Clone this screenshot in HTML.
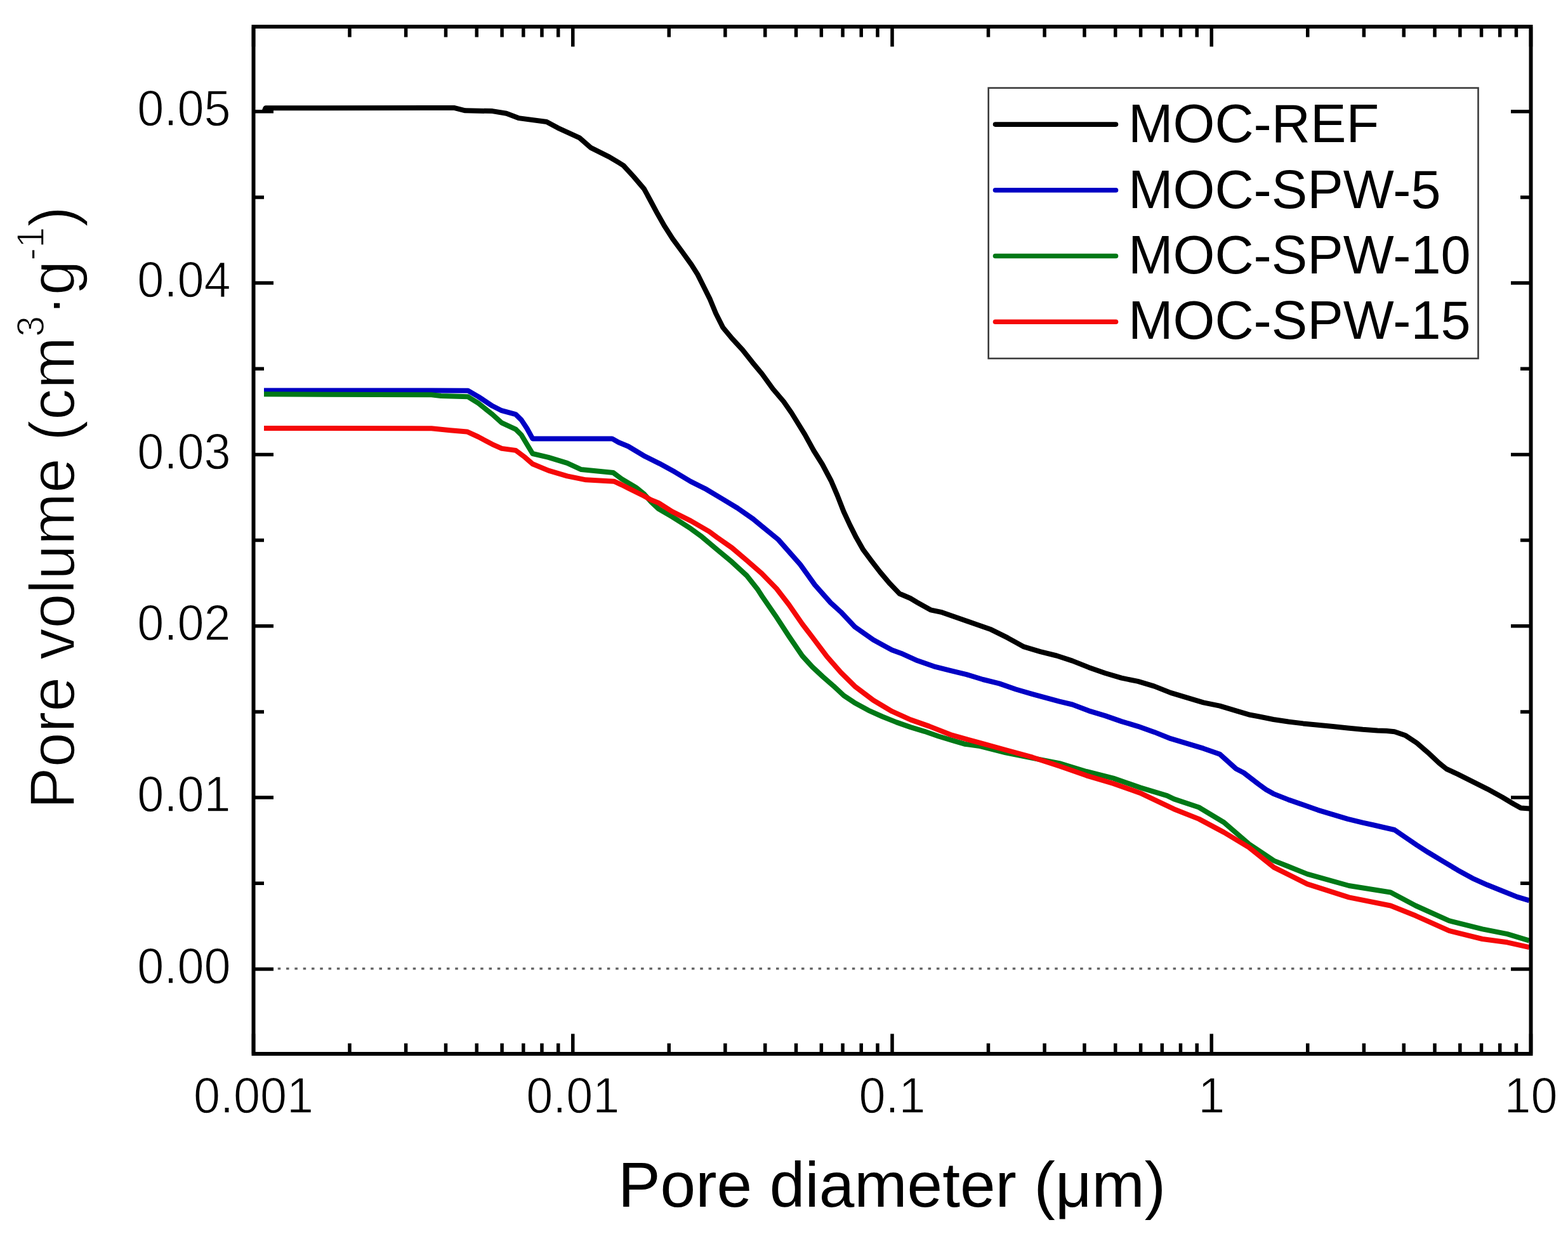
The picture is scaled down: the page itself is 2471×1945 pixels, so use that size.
<!DOCTYPE html>
<html><head><meta charset="utf-8"><title>Pore volume vs pore diameter</title>
<style>html,body{margin:0;padding:0;background:#fff}svg{display:block}</style></head>
<body><svg width="2471" height="1945" viewBox="0 0 2471 1945">
<rect x="0" y="0" width="2471" height="1945" fill="#fff"/>
<line x1="437.75" y1="1526.8" x2="2378.5" y2="1526.8" stroke="#666" stroke-width="3.4" stroke-dasharray="4.5 8.81"/>
<g fill="none" stroke-width="8" stroke-linejoin="round" stroke-linecap="butt">
<polyline stroke="#000000" points="416.0,176.5 418.5,170.3 680.0,170.0 715.4,169.9 733.1,174.3 775.9,175.1 798.0,178.8 817.1,186.1 861.4,192.0 879.1,201.6 913.0,217.1 930.7,232.6 960.2,247.3 974.9,256.2 982.8,261.2 998.3,278.1 1015.1,297.8 1024.9,316.0 1036.2,337.1 1047.4,356.7 1060.0,376.4 1075.5,397.5 1089.6,417.1 1099.4,432.6 1109.2,452.2 1119.0,471.9 1128.1,494.0 1139.3,516.3 1153.4,533.2 1170.2,551.5 1185.7,571.1 1201.0,589.5 1218.0,613.0 1235.0,633.0 1247.5,651.0 1258.0,668.0 1268.4,684.9 1282.2,710.0 1296.0,732.0 1309.8,758.0 1319.7,781.1 1329.5,806.3 1339.3,827.4 1349.2,847.1 1360.4,866.7 1373.0,883.6 1387.1,901.9 1402.5,920.1 1417.8,936.0 1420.0,936.8 1434.6,943.0 1445.8,949.7 1466.5,961.3 1484.5,965.2 1510.3,974.2 1536.1,983.2 1561.9,992.3 1587.7,1005.2 1613.5,1019.4 1639.4,1027.1 1665.2,1033.5 1690.0,1041.6 1715.8,1051.9 1741.6,1061.0 1767.4,1068.7 1793.2,1073.9 1819.0,1081.6 1844.8,1091.9 1870.6,1099.7 1896.5,1107.4 1922.3,1112.6 1948.1,1120.3 1970.0,1126.8 1983.4,1129.3 2006.8,1134.0 2030.3,1137.5 2053.7,1140.4 2077.1,1142.7 2100.5,1145.1 2123.9,1147.4 2147.4,1149.8 2170.8,1151.5 2185.0,1152.0 2197.6,1153.2 2215.1,1159.3 2232.7,1171.0 2250.3,1186.2 2267.8,1202.6 2279.5,1212.0 2297.1,1220.2 2320.5,1231.9 2343.9,1243.6 2367.4,1256.5 2384.9,1267.0 2396.6,1273.5 2410.4,1274.6"/>
<polyline stroke="#0000c4" points="416.0,615.5 680.0,615.5 737.5,615.8 753.7,625.1 775.9,639.8 790.6,647.2 812.7,653.1 821.6,661.9 830.4,675.2 839.3,691.4 964.6,691.4 974.9,697.3 990.0,703.5 1014.6,718.3 1039.2,730.6 1063.8,744.1 1088.4,758.9 1113.0,771.2 1137.5,785.9 1162.1,800.7 1186.7,817.9 1200.0,828.9 1226.5,850.5 1261.0,889.6 1284.1,921.9 1309.0,950.0 1325.1,964.6 1347.1,988.0 1376.3,1008.5 1405.6,1024.6 1420.0,1029.7 1445.8,1041.3 1471.6,1050.3 1497.4,1056.8 1523.2,1063.2 1549.0,1071.0 1574.8,1077.4 1601.0,1086.5 1627.2,1094.1 1669.6,1105.7 1690.0,1110.5 1715.8,1120.3 1741.6,1128.1 1767.4,1137.1 1793.2,1144.8 1819.0,1153.9 1844.8,1164.2 1870.6,1171.9 1896.5,1179.7 1922.3,1188.7 1947.9,1211.8 1960.0,1218.0 1971.7,1227.0 1983.4,1236.0 1995.1,1244.5 2006.8,1251.1 2030.3,1260.4 2053.7,1268.6 2077.1,1276.8 2100.5,1283.8 2123.9,1290.9 2147.4,1296.7 2165.0,1300.5 2180.0,1304.0 2197.6,1308.0 2215.1,1320.0 2232.7,1332.0 2250.3,1343.3 2273.7,1357.4 2297.1,1371.4 2320.5,1384.3 2343.9,1394.8 2367.4,1404.2 2390.8,1413.6 2410.0,1419.4"/>
<polyline stroke="#007816" points="416.0,621.3 680.0,622.3 694.7,624.0 737.5,625.3 753.7,635.4 775.9,653.1 790.6,666.4 812.7,676.7 821.6,685.5 830.4,700.3 839.3,715.0 864.3,720.9 893.8,729.8 916.0,740.1 966.4,745.0 979.3,754.6 991.0,761.6 1002.7,768.6 1014.4,778.0 1026.1,791.0 1037.8,802.0 1059.3,814.5 1076.8,825.6 1088.5,833.2 1106.1,846.1 1130.0,866.3 1153.4,885.7 1176.8,907.3 1194.4,929.6 1201.1,940.0 1222.1,970.4 1243.2,1002.8 1264.3,1033.7 1280.0,1051.0 1296.6,1066.5 1313.2,1080.9 1329.8,1096.4 1346.4,1107.4 1368.5,1119.6 1390.6,1129.5 1412.7,1138.4 1434.8,1146.1 1457.0,1152.8 1479.1,1160.5 1501.2,1167.1 1520.0,1172.7 1542.4,1175.7 1584.8,1186.3 1627.2,1194.8 1669.6,1203.2 1712.0,1216.0 1754.4,1226.6 1796.8,1241.4 1839.2,1254.1 1850.0,1259.4 1889.4,1272.5 1928.8,1296.2 1968.2,1330.3 2007.6,1356.6 2060.1,1377.6 2125.8,1396.0 2191.5,1406.5 2230.9,1427.5 2283.4,1451.1 2336.0,1464.3 2375.3,1472.2 2410.0,1482.7"/>
<polyline stroke="#f50808" points="416.0,675.0 680.0,675.2 709.5,678.2 736.0,680.4 753.7,688.5 775.9,700.3 790.6,706.9 812.7,709.9 827.5,720.9 839.3,731.2 864.3,741.6 893.8,750.4 923.3,756.3 967.6,758.7 979.3,764.0 991.0,769.8 1002.7,775.7 1014.4,781.5 1026.1,788.0 1037.8,792.6 1059.3,806.3 1088.5,820.9 1117.8,837.9 1130.0,847.0 1153.4,863.4 1176.8,883.3 1200.3,903.8 1223.7,927.8 1243.2,953.0 1264.3,983.5 1281.2,1005.6 1303.2,1034.9 1325.1,1059.8 1347.1,1081.7 1376.3,1103.7 1405.6,1121.2 1434.9,1134.4 1464.2,1144.6 1500.0,1158.7 1542.4,1170.4 1584.8,1182.0 1627.2,1193.7 1669.6,1207.5 1712.0,1222.3 1754.4,1235.0 1796.8,1249.9 1850.0,1275.2 1889.4,1290.9 1928.8,1311.9 1968.2,1335.6 2007.6,1367.1 2060.1,1393.4 2125.8,1414.4 2191.5,1427.5 2230.9,1443.3 2283.4,1466.9 2336.0,1480.0 2375.3,1485.3 2410.0,1493.2"/>
</g>
<path d="M399.50,1661.0v-31.5M399.50,42.0v31.5M550.99,1661.0v-16.5M550.99,42.0v16.5M639.61,1661.0v-16.5M639.61,42.0v16.5M702.49,1661.0v-16.5M702.49,42.0v16.5M751.26,1661.0v-16.5M751.26,42.0v16.5M791.10,1661.0v-16.5M791.10,42.0v16.5M824.80,1661.0v-16.5M824.80,42.0v16.5M853.98,1661.0v-16.5M853.98,42.0v16.5M879.72,1661.0v-16.5M879.72,42.0v16.5M902.75,1661.0v-31.5M902.75,42.0v31.5M1054.24,1661.0v-16.5M1054.24,42.0v16.5M1142.86,1661.0v-16.5M1142.86,42.0v16.5M1205.74,1661.0v-16.5M1205.74,42.0v16.5M1254.51,1661.0v-16.5M1254.51,42.0v16.5M1294.35,1661.0v-16.5M1294.35,42.0v16.5M1328.05,1661.0v-16.5M1328.05,42.0v16.5M1357.23,1661.0v-16.5M1357.23,42.0v16.5M1382.97,1661.0v-16.5M1382.97,42.0v16.5M1406.00,1661.0v-31.5M1406.00,42.0v31.5M1557.49,1661.0v-16.5M1557.49,42.0v16.5M1646.11,1661.0v-16.5M1646.11,42.0v16.5M1708.99,1661.0v-16.5M1708.99,42.0v16.5M1757.76,1661.0v-16.5M1757.76,42.0v16.5M1797.60,1661.0v-16.5M1797.60,42.0v16.5M1831.30,1661.0v-16.5M1831.30,42.0v16.5M1860.48,1661.0v-16.5M1860.48,42.0v16.5M1886.22,1661.0v-16.5M1886.22,42.0v16.5M1909.25,1661.0v-31.5M1909.25,42.0v31.5M2060.74,1661.0v-16.5M2060.74,42.0v16.5M2149.36,1661.0v-16.5M2149.36,42.0v16.5M2212.24,1661.0v-16.5M2212.24,42.0v16.5M2261.01,1661.0v-16.5M2261.01,42.0v16.5M2300.85,1661.0v-16.5M2300.85,42.0v16.5M2334.55,1661.0v-16.5M2334.55,42.0v16.5M2363.73,1661.0v-16.5M2363.73,42.0v16.5M2389.47,1661.0v-16.5M2389.47,42.0v16.5M2412.50,1661.0v-31.5M2412.50,42.0v31.5M399.5,1527.40h31.5M2412.5,1527.40h-31.5M399.5,1392.24h16.5M2412.5,1392.24h-16.5M399.5,1257.07h31.5M2412.5,1257.07h-31.5M399.5,1121.91h16.5M2412.5,1121.91h-16.5M399.5,986.74h31.5M2412.5,986.74h-31.5M399.5,851.58h16.5M2412.5,851.58h-16.5M399.5,716.41h31.5M2412.5,716.41h-31.5M399.5,581.25h16.5M2412.5,581.25h-16.5M399.5,446.08h31.5M2412.5,446.08h-31.5M399.5,310.92h16.5M2412.5,310.92h-16.5M399.5,175.75h31.5M2412.5,175.75h-31.5" stroke="#000" stroke-width="5.5" fill="none"/>
<rect x="399.5" y="42.0" width="2013.0" height="1619.0" fill="none" stroke="#000" stroke-width="6"/>
<g font-family='"Liberation Sans", Arial, sans-serif' font-size="80" fill="#000" stroke="#fff" stroke-width="1.3">
<text transform="translate(363.5,1549.7) scale(0.945,1)" text-anchor="end">0.00</text>
<text transform="translate(363.5,1279.4) scale(0.945,1)" text-anchor="end">0.01</text>
<text transform="translate(363.5,1009.0) scale(0.945,1)" text-anchor="end">0.02</text>
<text transform="translate(363.5,738.7) scale(0.945,1)" text-anchor="end">0.03</text>
<text transform="translate(363.5,468.4) scale(0.945,1)" text-anchor="end">0.04</text>
<text transform="translate(363.5,198.1) scale(0.945,1)" text-anchor="end">0.05</text>
<text transform="translate(399.5,1754) scale(0.945,1)" text-anchor="middle">0.001</text>
<text transform="translate(902.8,1754) scale(0.945,1)" text-anchor="middle">0.01</text>
<text transform="translate(1406.0,1754) scale(0.945,1)" text-anchor="middle">0.1</text>
<text transform="translate(1909.2,1754) scale(0.945,1)" text-anchor="middle">1</text>
<text transform="translate(2412.5,1754) scale(0.945,1)" text-anchor="middle">10</text>
</g>
<text transform="translate(1405.5,1901.5) scale(0.99,1)" text-anchor="middle" font-family='"Liberation Sans", Arial, sans-serif' font-size="101">Pore diameter (μm)</text>
<text transform="translate(117.2,1275.0) rotate(-90) scale(0.975,1)" font-family='"Liberation Sans", Arial, sans-serif' font-size="101" stroke="#fff" stroke-width="1.5">Pore volume (cm<tspan font-size="60.5" dy="-48.5">3</tspan><tspan dy="48.5">·g</tspan><tspan font-size="60.5" dy="-48.5">-1</tspan><tspan dy="48.5">)</tspan></text>
<rect x="1557.7" y="138.6" width="771.8" height="426.4" fill="none" stroke="#3a3a3a" stroke-width="2.6"/>
<line x1="1568.5" y1="196.1" x2="1758.5" y2="196.1" stroke="#000000" stroke-width="7.6" stroke-linecap="round"/>
<text transform="translate(1778.0,224.3) scale(0.985,1)" font-family='"Liberation Sans", Arial, sans-serif' font-size="86">MOC-REF</text>
<line x1="1568.5" y1="299.8" x2="1758.5" y2="299.8" stroke="#0000c4" stroke-width="7.6" stroke-linecap="round"/>
<text transform="translate(1778.0,327.6) scale(0.985,1)" font-family='"Liberation Sans", Arial, sans-serif' font-size="86">MOC-SPW-5</text>
<line x1="1568.5" y1="403.5" x2="1758.5" y2="403.5" stroke="#007816" stroke-width="7.6" stroke-linecap="round"/>
<text transform="translate(1778.0,430.9) scale(0.985,1)" font-family='"Liberation Sans", Arial, sans-serif' font-size="86">MOC-SPW-10</text>
<line x1="1568.5" y1="507.2" x2="1758.5" y2="507.2" stroke="#f50808" stroke-width="7.6" stroke-linecap="round"/>
<text transform="translate(1778.0,534.2) scale(0.985,1)" font-family='"Liberation Sans", Arial, sans-serif' font-size="86">MOC-SPW-15</text>
</svg></body></html>
